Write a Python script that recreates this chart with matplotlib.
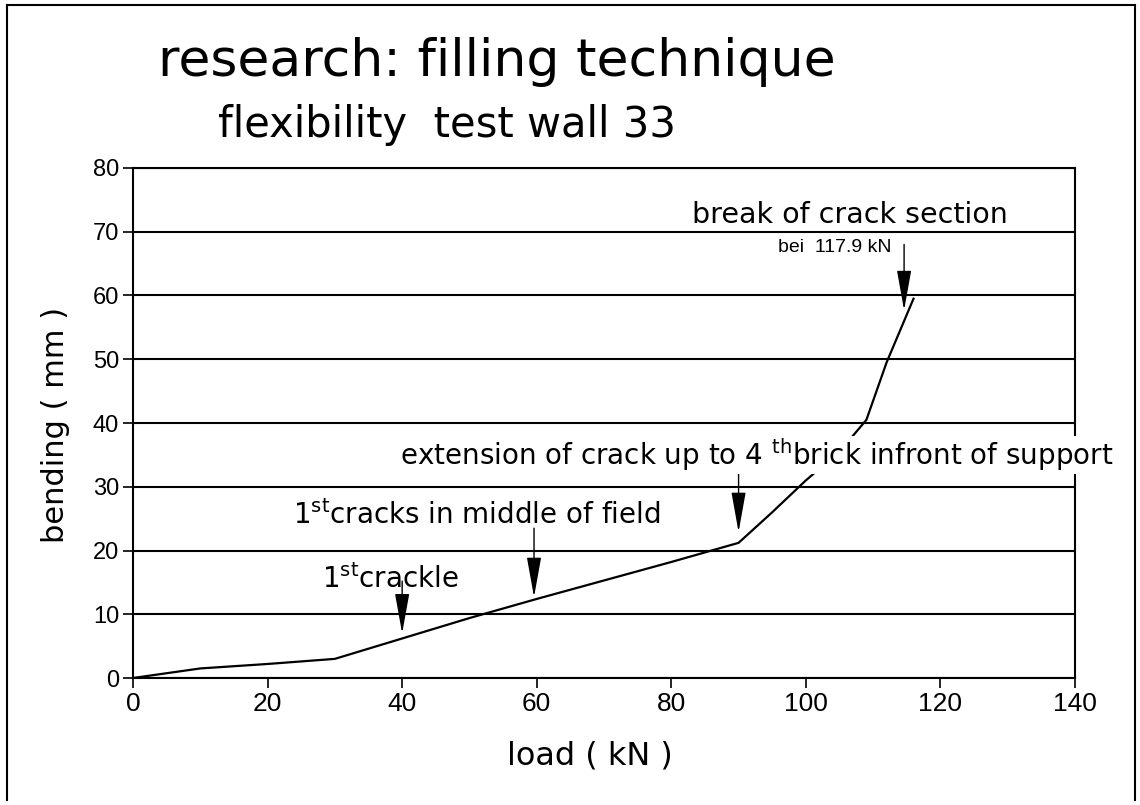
import matplotlib
matplotlib.use("Agg")
import matplotlib.pyplot as plt
from matplotlib.lines import Line2D

# load-deflection curve
load = [0, 10, 20, 30, 40, 50, 60, 70, 80, 90, 95, 100, 105, 109, 112, 116]
bending = [0, 1.5, 2.2, 3.0, 6.2, 9.4, 12.4, 15.3, 18.2, 21.2, 26.0, 31.0, 35.5, 40.5, 49.5, 59.5]

# event markers: load where the arrow points, bending at tip and at top of stem
event_load = [40, 59.6, 90, 114.6]
event_tip = [7.0, 12.7, 22.9, 57.7]
event_top = [15.2, 23.5, 33.4, 68.0]

x_ticks = [0, 20, 40, 60, 80, 100, 120, 140]
y_ticks = [0, 10, 20, 30, 40, 50, 60, 70, 80]

plt.rcParams['font.family'] = ['DejaVu Sans']
plt.rcParams['mathtext.fontset'] = 'dejavusans'

fig = plt.figure(figsize=(11.4, 8.05), dpi=100)
ax = fig.add_axes([133 / 1140, 1 - 678 / 805, (1075 - 133) / 1140, (678 - 168) / 805])

ax.plot(load, bending, color='black', lw=1.6, zorder=3)

ax.set_xlim(0, 140)
ax.set_ylim(0, 80)
ax.set_xticks(x_ticks)
ax.set_yticks(y_ticks)
ax.tick_params(direction='out', length=7, width=1.2, pad=3)
ax.tick_params(axis='x', labelsize=19)
ax.tick_params(axis='y', labelsize=17)
for lab in ax.get_xticklabels() + ax.get_yticklabels():
    lab.set_family(['Liberation Sans', 'DejaVu Sans'])
ax.yaxis.grid(True, color='black', lw=1.5)
ax.set_axisbelow(True)
for s in ax.spines.values():
    s.set_linewidth(1.5)

ax.set_xlabel('load ( kN )', fontsize=23, va='center')
ax.xaxis.set_label_coords((590 - 133) / 942, (678 - 756) / 510)
ax.set_ylabel('bending ( mm )', fontsize=22, va='center')
ax.yaxis.set_label_coords((56 - 133) / 942, (678 - 425) / 510)

for x, tip, top in zip(event_load, event_tip, event_top):
    ax.annotate('', xy=(x, tip), xytext=(x, top),
                arrowprops=dict(arrowstyle='-|>,head_length=2.5,head_width=0.45',
                                mutation_scale=10, color='black', lw=1.0,
                                shrinkA=0, shrinkB=0), zorder=4)

ax.text(28.1, 15.5, r'1$^{\mathrm{st}}$crackle', fontsize=20, va='center', ha='left', zorder=5)
ax.text(23.8, 25.5, r'1$^{\mathrm{st}}$cracks in middle of field', fontsize=20,
        va='center', ha='left', zorder=5)
ax.text(39.7, 35.0, r'extension of crack up to 4 $^{\mathrm{th}}$brick infront of support',
        fontsize=20, va='center', ha='left', clip_on=False, zorder=5,
        bbox=dict(facecolor='white', edgecolor='none', pad=0.5))
ax.text(83.1, 72.6, 'break of crack section', fontsize=20.5, va='center', ha='left', zorder=5)
ax.text(95.8, 67.5, 'bei  117.9 kN', fontsize=14, va='center', ha='left', zorder=5,
        family=['Liberation Sans', 'DejaVu Sans'])

fig.text(158 / 1140, 1 - 62 / 805, 'research: filling technique', fontsize=37.5,
         va='center', ha='left')
fig.text(218 / 1140, 1 - 125 / 805, 'flexibility  test wall 33', fontsize=30,
         va='center', ha='left')

# scanned page frame
for xs, ys in [([7, 1135], [5, 5]), ([7, 7], [5, 800]), ([1135, 1135], [5, 800])]:
    fig.add_artist(Line2D([x / 1140 for x in xs], [1 - y / 805 for y in ys],
                          color='black', lw=1.5))

fig.savefig('out.png', dpi=100)
